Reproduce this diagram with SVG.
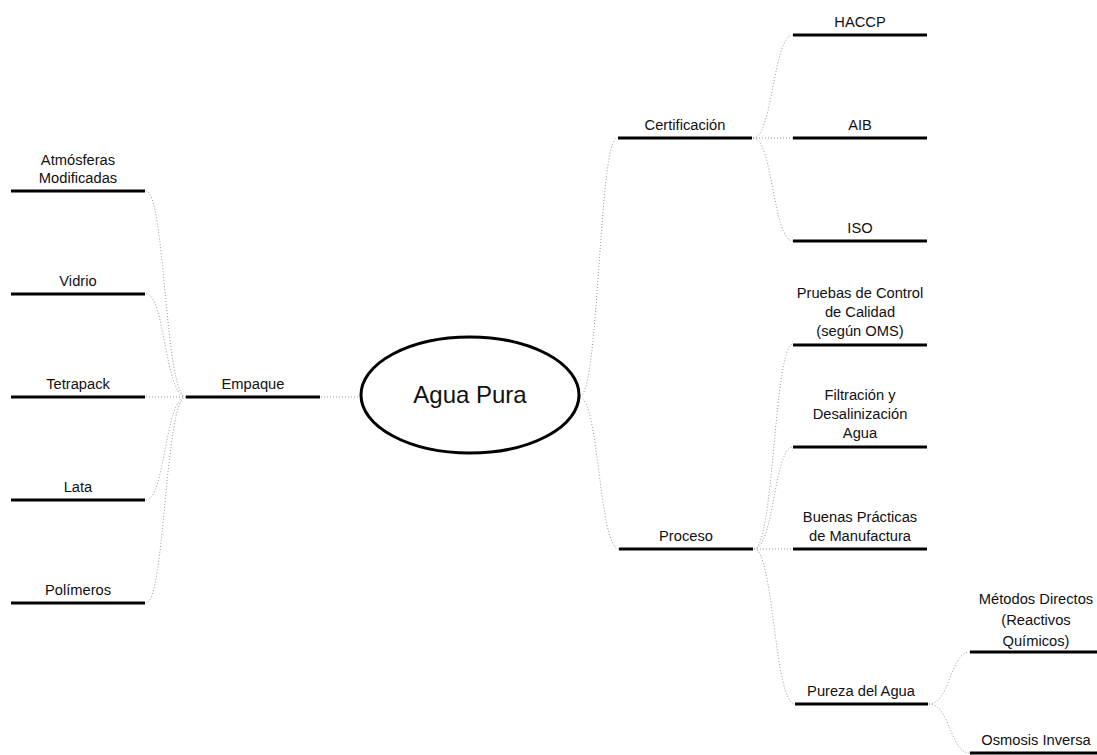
<svg xmlns="http://www.w3.org/2000/svg" width="1097" height="755" viewBox="0 0 1097 755">
<style>
.t{font-family:"Liberation Sans",Arial,sans-serif;font-size:14.7px;fill:#111;text-anchor:middle}
.bar{stroke:#000;stroke-width:3;fill:none}
.c{stroke:#999;stroke-width:1;stroke-dasharray:1 2;fill:none}
</style>
<rect width="1097" height="755" fill="#fff"/>
<g id="connectors">
<path class="c" d="M321,397 L360,397"/>
<path class="c" d="M186,397 C165,397 165,191 146,191"/>
<path class="c" d="M186,397 C165,397 165,294 146,294"/>
<path class="c" d="M186,397 L146,397"/>
<path class="c" d="M186,397 C165,397 165,500 146,500"/>
<path class="c" d="M186,397 C165,397 165,603 146,603"/>
<path class="c" d="M580,396 C599,396 599,138 617,138"/>
<path class="c" d="M580,398 C599,398 599,549 619,549"/>
<path class="c" d="M753,138 C773,138 773,35 793,35"/>
<path class="c" d="M753,138 L793,138"/>
<path class="c" d="M753,138 C773,138 773,241 793,241"/>
<path class="c" d="M754,549 C774,549 774,344 793,344"/>
<path class="c" d="M754,549 C774,549 774,447 793,447"/>
<path class="c" d="M754,549 L793,549"/>
<path class="c" d="M754,549 C774,549 774,704 795,704"/>
<path class="c" d="M929,704 C950,704 950,652 970,652"/>
<path class="c" d="M929,704 C950,704 950,753 970,753"/>
</g>
<g id="agua-pura">
<ellipse cx="470" cy="395" rx="109" ry="58" fill="#fff" stroke="#000" stroke-width="3"/>
<text x="470" y="403" class="t" style="font-size:24px">Agua Pura</text>
</g>
<g id="empaque">
<line class="bar" x1="186" y1="397" x2="320" y2="397"/>
<text class="t" x="253" y="389">Empaque</text>
</g>
<g id="atmosferas">
<line class="bar" x1="11" y1="191" x2="145" y2="191"/>
<text class="t" x="78" y="165">Atmósferas</text>
<text class="t" x="78" y="183">Modificadas</text>
</g>
<g id="vidrio">
<line class="bar" x1="11" y1="294" x2="145" y2="294"/>
<text class="t" x="78" y="286">Vidrio</text>
</g>
<g id="tetrapack">
<line class="bar" x1="11" y1="397" x2="145" y2="397"/>
<text class="t" x="78" y="389">Tetrapack</text>
</g>
<g id="lata">
<line class="bar" x1="11" y1="500" x2="145" y2="500"/>
<text class="t" x="78" y="492">Lata</text>
</g>
<g id="polimeros">
<line class="bar" x1="11" y1="603" x2="145" y2="603"/>
<text class="t" x="78" y="595">Polímeros</text>
</g>
<g id="certificacion">
<line class="bar" x1="618" y1="138" x2="752" y2="138"/>
<text class="t" x="685" y="130">Certificación</text>
</g>
<g id="proceso">
<line class="bar" x1="619" y1="549" x2="753" y2="549"/>
<text class="t" x="686" y="541">Proceso</text>
</g>
<g id="haccp">
<line class="bar" x1="793" y1="35" x2="927" y2="35"/>
<text class="t" x="860" y="27">HACCP</text>
</g>
<g id="aib">
<line class="bar" x1="793" y1="138" x2="927" y2="138"/>
<text class="t" x="860" y="130">AIB</text>
</g>
<g id="iso">
<line class="bar" x1="793" y1="241" x2="927" y2="241"/>
<text class="t" x="860" y="233">ISO</text>
</g>
<g id="pruebas">
<line class="bar" x1="793" y1="345" x2="927" y2="345"/>
<text class="t" x="860" y="298">Pruebas de Control</text>
<text class="t" x="860" y="317">de Calidad</text>
<text class="t" x="860" y="336">(según OMS)</text>
</g>
<g id="filtracion">
<line class="bar" x1="793" y1="447" x2="927" y2="447"/>
<text class="t" x="860" y="400">Filtración y</text>
<text class="t" x="860" y="419">Desalinización</text>
<text class="t" x="860" y="438">Agua</text>
</g>
<g id="buenas">
<line class="bar" x1="793" y1="549" x2="927" y2="549"/>
<text class="t" x="860" y="522">Buenas Prácticas</text>
<text class="t" x="860" y="541">de Manufactura</text>
</g>
<g id="pureza">
<line class="bar" x1="795" y1="704" x2="928" y2="704"/>
<text class="t" x="861" y="696">Pureza del Agua</text>
</g>
<g id="metodos">
<line class="bar" x1="970" y1="652" x2="1100" y2="652"/>
<text class="t" x="1036" y="604">Métodos Directos</text>
<text class="t" x="1036" y="625">(Reactivos</text>
<text class="t" x="1036" y="646">Químicos)</text>
</g>
<g id="osmosis">
<line class="bar" x1="970" y1="753" x2="1100" y2="753"/>
<text class="t" x="1036" y="745">Osmosis Inversa</text>
</g>
</svg>
